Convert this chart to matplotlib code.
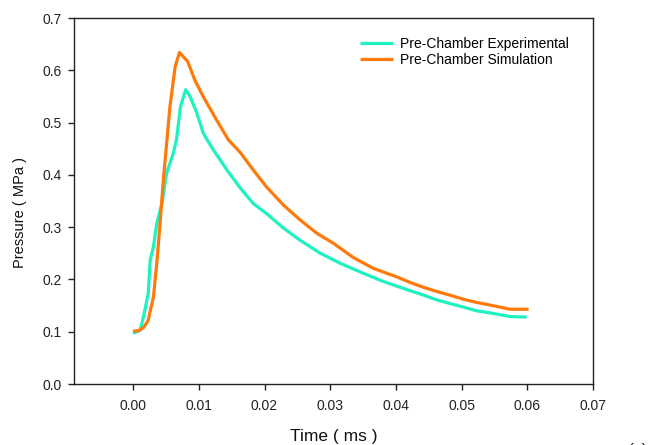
import matplotlib
matplotlib.use("Agg")
import matplotlib.pyplot as plt
import numpy as np

plt.rcParams['font.family'] = ['Liberation Sans', 'DejaVu Sans']

# Data (time in ms, pressure in MPa)
exp_time = [0.0, 0.0011, 0.0018, 0.0023, 0.0026, 0.0031, 0.0036, 0.0044, 0.0051,
            0.0061, 0.0066, 0.0072, 0.0080, 0.0087, 0.0097, 0.0107, 0.0122, 0.0143,
            0.0163, 0.0183, 0.0203, 0.0229, 0.0254, 0.0285, 0.0315, 0.0350, 0.0381,
            0.0411, 0.0442, 0.0462, 0.0482, 0.0503, 0.0523, 0.0548, 0.0574, 0.0599]
exp_pressure = [0.097, 0.103, 0.142, 0.173, 0.237, 0.263, 0.307, 0.346, 0.403,
                0.441, 0.467, 0.530, 0.563, 0.549, 0.518, 0.479, 0.448, 0.409,
                0.375, 0.345, 0.326, 0.298, 0.275, 0.250, 0.231, 0.212, 0.196,
                0.183, 0.170, 0.161, 0.154, 0.147, 0.140, 0.135, 0.129, 0.128]

sim_time = [0.0, 0.0008, 0.0016, 0.0023, 0.0031, 0.0036, 0.0041, 0.0046, 0.0051,
            0.0056, 0.0064, 0.00705, 0.0083, 0.0094, 0.0107, 0.0127, 0.0145, 0.0163,
            0.0183, 0.0203, 0.0229, 0.0254, 0.0280, 0.0305, 0.0335, 0.0366, 0.0401,
            0.0422, 0.0442, 0.0462, 0.0482, 0.0503, 0.0523, 0.0543, 0.0574, 0.0602]
sim_pressure = [0.101, 0.102, 0.108, 0.122, 0.167, 0.231, 0.307, 0.390, 0.460,
                0.530, 0.607, 0.634, 0.617, 0.581, 0.549, 0.505, 0.467, 0.443,
                0.409, 0.377, 0.342, 0.314, 0.288, 0.269, 0.242, 0.221, 0.205,
                0.194, 0.185, 0.177, 0.170, 0.162, 0.156, 0.151, 0.143, 0.143]

x_ticks = [0.00, 0.01, 0.02, 0.03, 0.04, 0.05, 0.06, 0.07]
y_ticks = [0.0, 0.1, 0.2, 0.3, 0.4, 0.5, 0.6, 0.7]

W, H = 654, 445
fig = plt.figure(figsize=(W / 100, H / 100), dpi=100)
ax = fig.add_axes([74 / W, (H - 384) / H, (593 - 74) / W, (384 - 18) / H])

ax.plot(exp_time, exp_pressure, color='#1EF2C0', lw=2.3, label='Pre-Chamber Experimental',
        solid_joinstyle='round', solid_capstyle='butt')
ax.plot(sim_time, sim_pressure, color='#FF7A0A', lw=2.3, label='Pre-Chamber Simulation',
        solid_joinstyle='round', solid_capstyle='butt')

ax.set_xlim(-0.009, 0.07)
ax.set_ylim(0.0, 0.7)
ax.set_xticks(x_ticks)
ax.set_xticklabels([f"{v:.2f}" for v in x_ticks])
ax.set_yticks(y_ticks)
ax.set_yticklabels([f"{v:.1f}" for v in y_ticks])

for s in ax.spines.values():
    s.set_linewidth(1.0)
    s.set_color('#222222')
ax.tick_params(axis='both', direction='out', length=4, width=1.0, labelsize=10,
               colors='#222222', labelcolor='#222222')
ax.tick_params(axis='x', pad=7)
ax.tick_params(axis='y', pad=5)

fig.text(334 / W, (H - 437) / H, 'Time ( ms )', ha='center', va='center',
         fontsize=12.5, color='#111111')
fig.text(20 / W, (H - 212) / H, 'Pressure ( MPa )', ha='center', va='center',
         rotation=90, fontsize=10.5, color='#111111')

leg = ax.legend(loc='upper left', bbox_to_anchor=(360 / W, (H - 37) / H),
                bbox_transform=fig.transFigure, frameon=False, fontsize=10,
                handlelength=2.4, handletextpad=0.5, labelspacing=0.15,
                borderaxespad=0, borderpad=0)

fig.text(638 / W, (H - 443) / H, '(c)', ha='center', va='top', fontsize=12.5,
         color='#222222')

fig.savefig('out.png', dpi=100)
